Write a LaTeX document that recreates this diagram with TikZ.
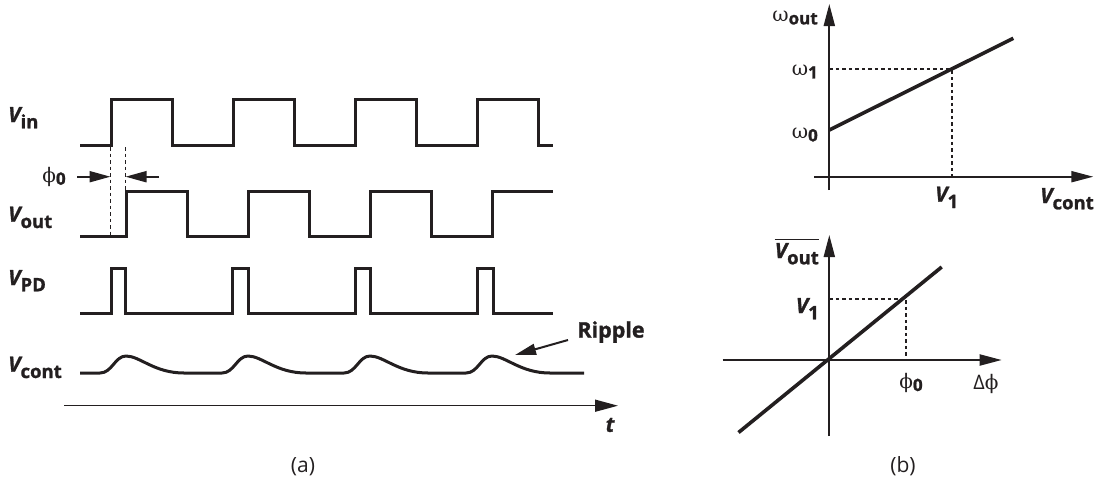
\documentclass[tikz,border=0pt]{standalone}
\usepackage{fontspec}
\setmainfont{Open Sans}[BoldFeatures={FakeBold=1.3},BoldItalicFeatures={FakeBold=1.3}]
\newfontfamily\gk{DejaVu Serif}
\usetikzlibrary{arrows.meta}
\definecolor{ink}{HTML}{231F20}
\newcommand{\Vlab}[1]{{\fontsize{21}{21}\selectfont\bfseries\itshape V\upshape\raisebox{-0.3em}{\fontsize{18.5}{18.5}\selectfont #1}}}
\newcommand{\Gsub}[2]{{{\gk\fontsize{20}{20}\selectfont #1}\raisebox{-0.25em}{\fontsize{17}{17}\selectfont\bfseries #2}}}
\begin{document}
\begin{tikzpicture}[x=1pt,y=-1pt,color=ink,
  wave/.style={line width=3pt,line join=miter},
  ax/.style={line width=2pt},
  curve/.style={line width=3.6pt},
  dsh/.style={line width=1.8pt,dash pattern=on 3.5pt off 3pt},
  tip/.style={-{Triangle[length=21pt,width=11pt]}},
  lbl/.style={inner sep=0pt,text=ink}]
\useasboundingbox (0,0) rectangle (1098,483);
% ---------- (a) waveforms ----------
\draw[wave] (80,145.5) -| (111,99.5) -| (172,145.5) -| (233,99.5) -| (294,145.5) -| (355,99.5) -| (416.5,145.5) -| (477,99.5) -| (538.5,145.5) -- (553,145.5);
\draw[wave] (80,236.5) -| (126,191.5) -| (187,236.5) -| (248,191.5) -| (309,236.5) -| (370,191.5) -| (431,236.5) -| (492,191.5) -- (553,191.5);
\draw[wave] (80,313.3) -| (111,268.3) -| (125,313.3) -| (232,268.3) -| (248,313.3) -| (355,268.3) -| (370,313.3) -| (477,268.3) -| (493,313.3) -- (553,313.3);
\draw[wave,line join=round] (80,373) -- (100,373) .. controls (112,373) and (115,356) .. (126,356) .. controls (140,356) and (154,373) .. (184,373)
  -- (222,373) .. controls (234,373) and (237,356) .. (248,356) .. controls (262,356) and (276,373) .. (306,373)
  -- (344,373) .. controls (356,373) and (359,356) .. (370,356) .. controls (384,356) and (398,373) .. (428,373)
  -- (466,373) .. controls (478,373) and (481,356) .. (492,356) .. controls (506,356) and (520,373) .. (550,373) -- (584,373);
% phase markers
\coordinate (d1t) at (110.5,147); \coordinate (d1b) at (110.5,236);
\coordinate (d2t) at (125.5,147); \coordinate (d2b) at (125.5,191);
\draw[dsh] (d1t) -- (d1b);
\draw[dsh] (d2t) -- (d2b);
\coordinate (aL0) at (77,176.7); \coordinate (aL1) at (110.5,176.7);
\coordinate (aR0) at (159,176.7); \coordinate (aR1) at (125.5,176.7);
\draw[line width=2pt,tip] (aL0) -- (aL1);
\draw[line width=2pt,tip] (aR0) -- (aR1);
% time axis
\coordinate (t0) at (64,405.7); \coordinate (t1) at (618,405.7);
\draw[line width=1.5pt,-{Triangle[length=23pt,width=12pt]}] (t0) -- (t1);
% labels
\node[lbl,anchor=base west] (vin) at (8,122) {\Vlab{in}};
\node[lbl,anchor=base west] (vout) at (8,221.7) {\Vlab{out}};
\node[lbl,anchor=base west] (vpd) at (8,285) {\Vlab{PD}};
\node[lbl,anchor=base west] (vcont) at (8,371.7) {\Vlab{cont}};
\node[lbl] (phi0) at (54,176.7) {\Gsub{ϕ}{0}};
\node[lbl,font=\fontsize{21.5}{21.5}\selectfont\bfseries] (ripple) at (611,332) {Ripple};
\coordinate (rp) at (515,355);
\coordinate (r0) at (568,340);
\draw[line width=2pt,tip] (r0) -- (rp);
\node[lbl,font=\fontsize{21}{21}\selectfont\bfseries\itshape] (t) at (610,425) {t};
\node[lbl,font=\fontsize{21}{21}\selectfont] (capa) at (303,466.5) {(a)};
% ---------- (b) top graph ----------
\coordinate (o1) at (829.3,176.7);
\coordinate (y1b) at (829.3,190); \coordinate (y1t) at (829.3,4);
\coordinate (x1l) at (814,176.7); \coordinate (x1r) at (1093.3,176.7);
\draw[ax,-{Triangle[length=22pt,width=11pt]}] (y1b) -- (y1t);
\draw[ax,-{Triangle[length=22pt,width=11pt]}] (x1l) -- (x1r);
\coordinate (c1a) at (829.3,130); \coordinate (c1b) at (1013.3,38.3);
\draw[curve] (c1a) -- (c1b);
\coordinate (w1) at (829.3,69.3); \coordinate (p1) at (951.7,69.3); \coordinate (v1) at (951.7,176.7);
\draw[dsh] (w1) -- (p1) -- (v1);
\node[lbl] (wout) at (795,18) {\Gsub{ω}{out}};
\node[lbl,anchor=east] (w1l) at (818,72) {\Gsub{ω}{1}};
\node[lbl,anchor=east] (w0l) at (818,135) {\Gsub{ω}{0}};
\node[lbl,anchor=base west] (v1l) at (935,201.7) {\Vlab{1}};
\node[lbl,anchor=base west] (vcl) at (1040,203) {\Vlab{cont}};
% ---------- (b) bottom graph ----------
\coordinate (o2) at (829.3,360);
\coordinate (y2b) at (829.3,436); \coordinate (y2t) at (829.3,235);
\coordinate (x2l) at (722.7,360); \coordinate (x2r) at (1001.7,360);
\draw[ax,-{Triangle[length=22pt,width=11pt]}] (y2b) -- (y2t);
\draw[ax,-{Triangle[length=22pt,width=11pt]}] (x2l) -- (x2r);
\coordinate (c2a) at (738.5,432.5); \coordinate (c2b) at (941.7,267);
\draw[curve] (c2a) -- (c2b);
\coordinate (w2) at (829.3,299); \coordinate (p2) at (906,299); \coordinate (v2) at (906,360);
\draw[dsh] (w2) -- (p2) -- (v2);
\node[lbl,anchor=base east,inner ysep=3.5pt] (voutb) at (819,258) {\Vlab{out}};
\draw[line width=1.6pt] (voutb.north west) -- (voutb.north east);
\node[lbl,anchor=base east] (v1b) at (819,313) {\Vlab{1}};
\node[lbl] (phib) at (911,383) {\Gsub{ϕ}{0}};
\node[lbl,font=\fontsize{20}{20}\selectfont] (dphi) at (986,384) {Δ{\gk ϕ}};
\node[lbl,font=\fontsize{21}{21}\selectfont] (capb) at (903,466.5) {(b)};
\end{tikzpicture}
\end{document}
